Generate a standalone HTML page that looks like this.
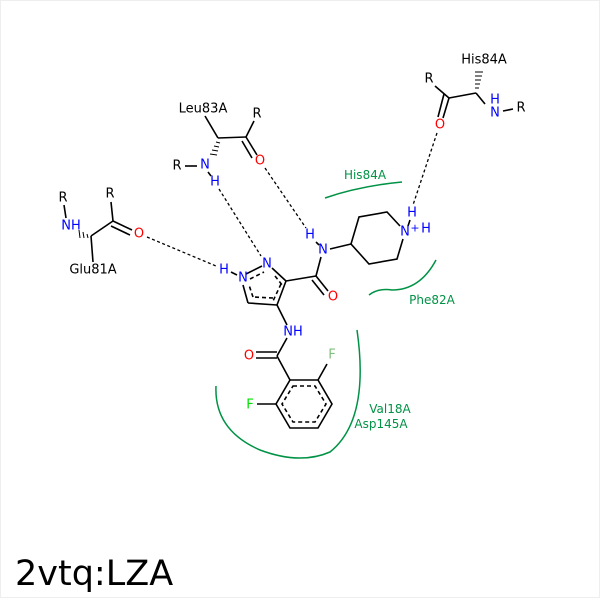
<!DOCTYPE html>
<html><head><meta charset="utf-8"><style>
html,body{margin:0;padding:0;background:#fff}
svg{display:block}
text{font-family:"DejaVu Sans","Liberation Sans",sans-serif;font-size:13px;text-anchor:middle;dominant-baseline:central}
.b{fill:#00f}.r{fill:#f00}.g{fill:#00e000}.k{fill:#000}.t{fill:#009245;font-size:12px}
</style></head><body>
<svg width="600" height="600" viewBox="0 0 600 600">
<rect x="0.5" y="0.5" width="599" height="597" fill="#fff" stroke="#eee"/>
<g stroke="#000" stroke-width="1.6" fill="none">
<line x1="205" y1="116" x2="218" y2="138"/>
<line x1="218" y1="138" x2="246" y2="137"/>
<line x1="246" y1="137" x2="254" y2="121"/>
<line x1="246" y1="137" x2="257" y2="155"/>
<line x1="242" y1="141" x2="252" y2="158"/>
<line x1="185" y1="166" x2="197" y2="166"/>
<line x1="208" y1="172" x2="211" y2="176"/>
<line x1="64" y1="205" x2="66" y2="218"/>
<line x1="91" y1="236" x2="113" y2="221"/>
<line x1="113" y1="221" x2="111" y2="202"/>
<line x1="113" y1="221" x2="132" y2="230"/>
<line x1="111" y1="226" x2="130" y2="235"/>
<line x1="91" y1="236" x2="93" y2="262"/>
<line x1="476" y1="93" x2="449" y2="98"/>
<line x1="449" y1="98" x2="435" y2="86"/>
<line x1="449" y1="98" x2="443" y2="118"/>
<line x1="444" y1="94" x2="438" y2="117"/>
<line x1="476" y1="93" x2="485" y2="104"/>
<line x1="503" y1="111" x2="513" y2="109"/>
<line x1="246" y1="274" x2="262" y2="266"/>
<line x1="272" y1="268" x2="286" y2="281"/>
<line x1="286" y1="281" x2="277" y2="305"/>
<line x1="277" y1="305" x2="248" y2="303"/>
<line x1="248" y1="303" x2="243" y2="285"/>
<line x1="231" y1="272" x2="237" y2="275"/>
<g stroke-dasharray="4,3"><line x1="250" y1="279" x2="264" y2="272"/><line x1="275" y1="276" x2="283" y2="286"/><line x1="281" y1="284" x2="273" y2="301"/><line x1="273" y1="298" x2="253" y2="297"/><line x1="253" y1="297" x2="249" y2="285"/></g>
<line x1="286" y1="281" x2="316" y2="276"/>
<line x1="316" y1="276" x2="321" y2="257"/>
<line x1="316" y1="276" x2="328" y2="291"/>
<line x1="312" y1="280" x2="324" y2="295"/>
<line x1="330" y1="249" x2="351" y2="244"/>
<line x1="316" y1="242" x2="319" y2="245"/>
<polyline points="400,226 387,212 359,217 351,244 369,264 397,259 403,239"/>
<line x1="410" y1="220" x2="408" y2="226"/>
<line x1="277" y1="305" x2="287" y2="325"/>
<line x1="287" y1="338" x2="277" y2="356"/>
<line x1="277" y1="352" x2="256" y2="352"/>
<line x1="277" y1="358" x2="256" y2="358"/>
<line x1="277" y1="356" x2="290" y2="380"/>
<polygon points="290,380 318,380 332,404 318,428 290,428 276,404"/>
<polygon points="293,386 315,386 326,404 315,422 293,422 282,404" stroke-dasharray="4,3"/>
<line x1="318" y1="380" x2="327" y2="364"/>
<line x1="276" y1="404" x2="257" y2="404"/>
</g>
<g stroke="#000" stroke-width="1">
<line x1="216" y1="142" x2="220" y2="143"/><line x1="214" y1="146" x2="219" y2="147"/><line x1="212" y1="150" x2="218" y2="151"/><line x1="210" y1="154" x2="217" y2="155"/>
<line x1="87" y1="234" x2="88" y2="238"/><line x1="83" y1="232" x2="84" y2="238"/><line x1="79" y1="230" x2="80" y2="238"/>
<line x1="475" y1="88" x2="479" y2="88"/><line x1="475" y1="84" x2="480" y2="84"/><line x1="475" y1="80" x2="481" y2="80"/><line x1="475" y1="76" x2="482" y2="76"/><line x1="475" y1="72" x2="483" y2="72"/>
</g>
<g stroke="#000" stroke-width="1.3" stroke-dasharray="3,2.5">
<line x1="147" y1="237" x2="216" y2="266"/>
<line x1="219" y1="189" x2="261" y2="256"/>
<line x1="265" y1="168" x2="306" y2="228"/>
<line x1="437" y1="133" x2="413" y2="205"/>
</g>
<g stroke="#009245" stroke-width="1.5" fill="none">
<path d="M325,198 Q360,186 402,182"/>
<path d="M369,295 Q378,288 392,290 Q420,290 436,260"/>
<path d="M216,386 Q214,430 260,450 Q300,465 330,452 Q370,420 357,330"/>
</g>
<text x="203" y="109" class="k">Leu83A</text>
<text x="257" y="114" class="k">R</text>
<text x="260" y="161" class="r">O</text>
<text x="205" y="165" class="b">N</text>
<text x="177" y="166" class="k">R</text>
<text x="215" y="182" class="b">H</text>
<text x="63" y="198" class="k">R</text>
<text x="71" y="226" class="b">NH</text>
<text x="110" y="194" class="k">R</text>
<text x="139" y="234" class="r">O</text>
<text x="93" y="270" class="k">Glu81A</text>
<text x="484" y="60" class="k">His84A</text>
<text x="429" y="79" class="k">R</text>
<text x="440" y="125" class="r">O</text>
<text x="495" y="113" class="b">N</text>
<text x="495" y="100" class="b">H</text>
<text x="521" y="108" class="k">R</text>
<text x="224" y="270" class="b">H</text>
<text x="243" y="278" class="b">N</text>
<text x="267" y="264" class="b">N</text>
<text x="333" y="297" class="r">O</text>
<text x="323" y="250" class="b">N</text>
<text x="310" y="235" class="b">H</text>
<text x="405" y="232" class="b">N</text>
<text x="412" y="213" class="b">H</text>
<text x="415" y="228" class="b" style="font-size:11px">+</text>
<text x="426" y="229" class="b">H</text>
<text x="293" y="332" class="b">NH</text>
<text x="249" y="356" class="r">O</text>
<text x="332" y="355" fill="#7fbf7f">F</text>
<text x="250" y="405" class="g">F</text>
<text x="365" y="175" class="t">His84A</text>
<text x="432" y="300" class="t">Phe82A</text>
<text x="390" y="409" class="t">Val18A</text>
<text x="381" y="424" class="t">Asp145A</text>
<text x="15" y="574" style="font-size:35px;text-anchor:start" class="k">2vtq:LZA</text>
</svg>
</body></html>
